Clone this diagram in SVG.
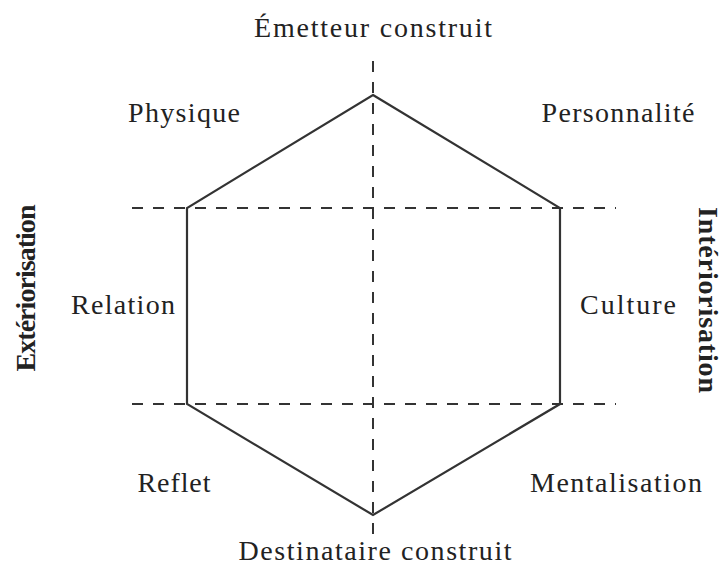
<svg xmlns="http://www.w3.org/2000/svg" width="726" height="584" viewBox="0 0 726 584">
  <style>
    .axis { fill: none; stroke: #333; stroke-width: 2; stroke-dasharray: 11 10; }
    .hex { fill: none; stroke: #333; stroke-width: 2.2; stroke-linejoin: miter; }
    .lbl { font-family: "Liberation Serif", "DejaVu Serif", serif; font-size: 28px; fill: #222; }
    .side { font-family: "Liberation Serif", "DejaVu Serif", serif; font-size: 28px; font-weight: bold; fill: #222; }
  </style>
  <rect width="726" height="584" fill="#fff"/>
  <g id="connectors">
    <line class="axis" x1="373" y1="61" x2="373" y2="538"/>
    <line class="axis" x1="132" y1="208" x2="616" y2="208"/>
    <line class="axis" x1="132" y1="404" x2="616" y2="404"/>
    <polygon class="hex" points="373,95 560,208 560,404 373,515 187,404 187,208"/>
  </g>
  <g id="n-emetteur"><text class="lbl" x="373" y="37" text-anchor="middle" textLength="238">Émetteur construit</text></g>
  <g id="n-physique"><text class="lbl" x="184" y="122" text-anchor="middle" textLength="112">Physique</text></g>
  <g id="n-personnalite"><text class="lbl" x="618" y="122" text-anchor="middle" textLength="153">Personnalité</text></g>
  <g id="n-relation"><text class="lbl" x="123" y="314" text-anchor="middle" textLength="104">Relation</text></g>
  <g id="n-culture"><text class="lbl" x="628" y="314" text-anchor="middle" textLength="96">Culture</text></g>
  <g id="n-reflet"><text class="lbl" x="174" y="492" text-anchor="middle" textLength="73">Reflet</text></g>
  <g id="n-mentalisation"><text class="lbl" x="616" y="492" text-anchor="middle" textLength="172">Mentalisation</text></g>
  <g id="n-destinataire"><text class="lbl" x="375" y="560" text-anchor="middle" textLength="273">Destinataire construit</text></g>
  <g id="n-exteriorisation"><text class="side" transform="translate(35 288) rotate(-90)" text-anchor="middle" textLength="167">Extériorisation</text></g>
  <g id="n-interiorisation"><text class="side" transform="translate(699 300) rotate(90)" text-anchor="middle" textLength="186">Intériorisation</text></g>
</svg>
